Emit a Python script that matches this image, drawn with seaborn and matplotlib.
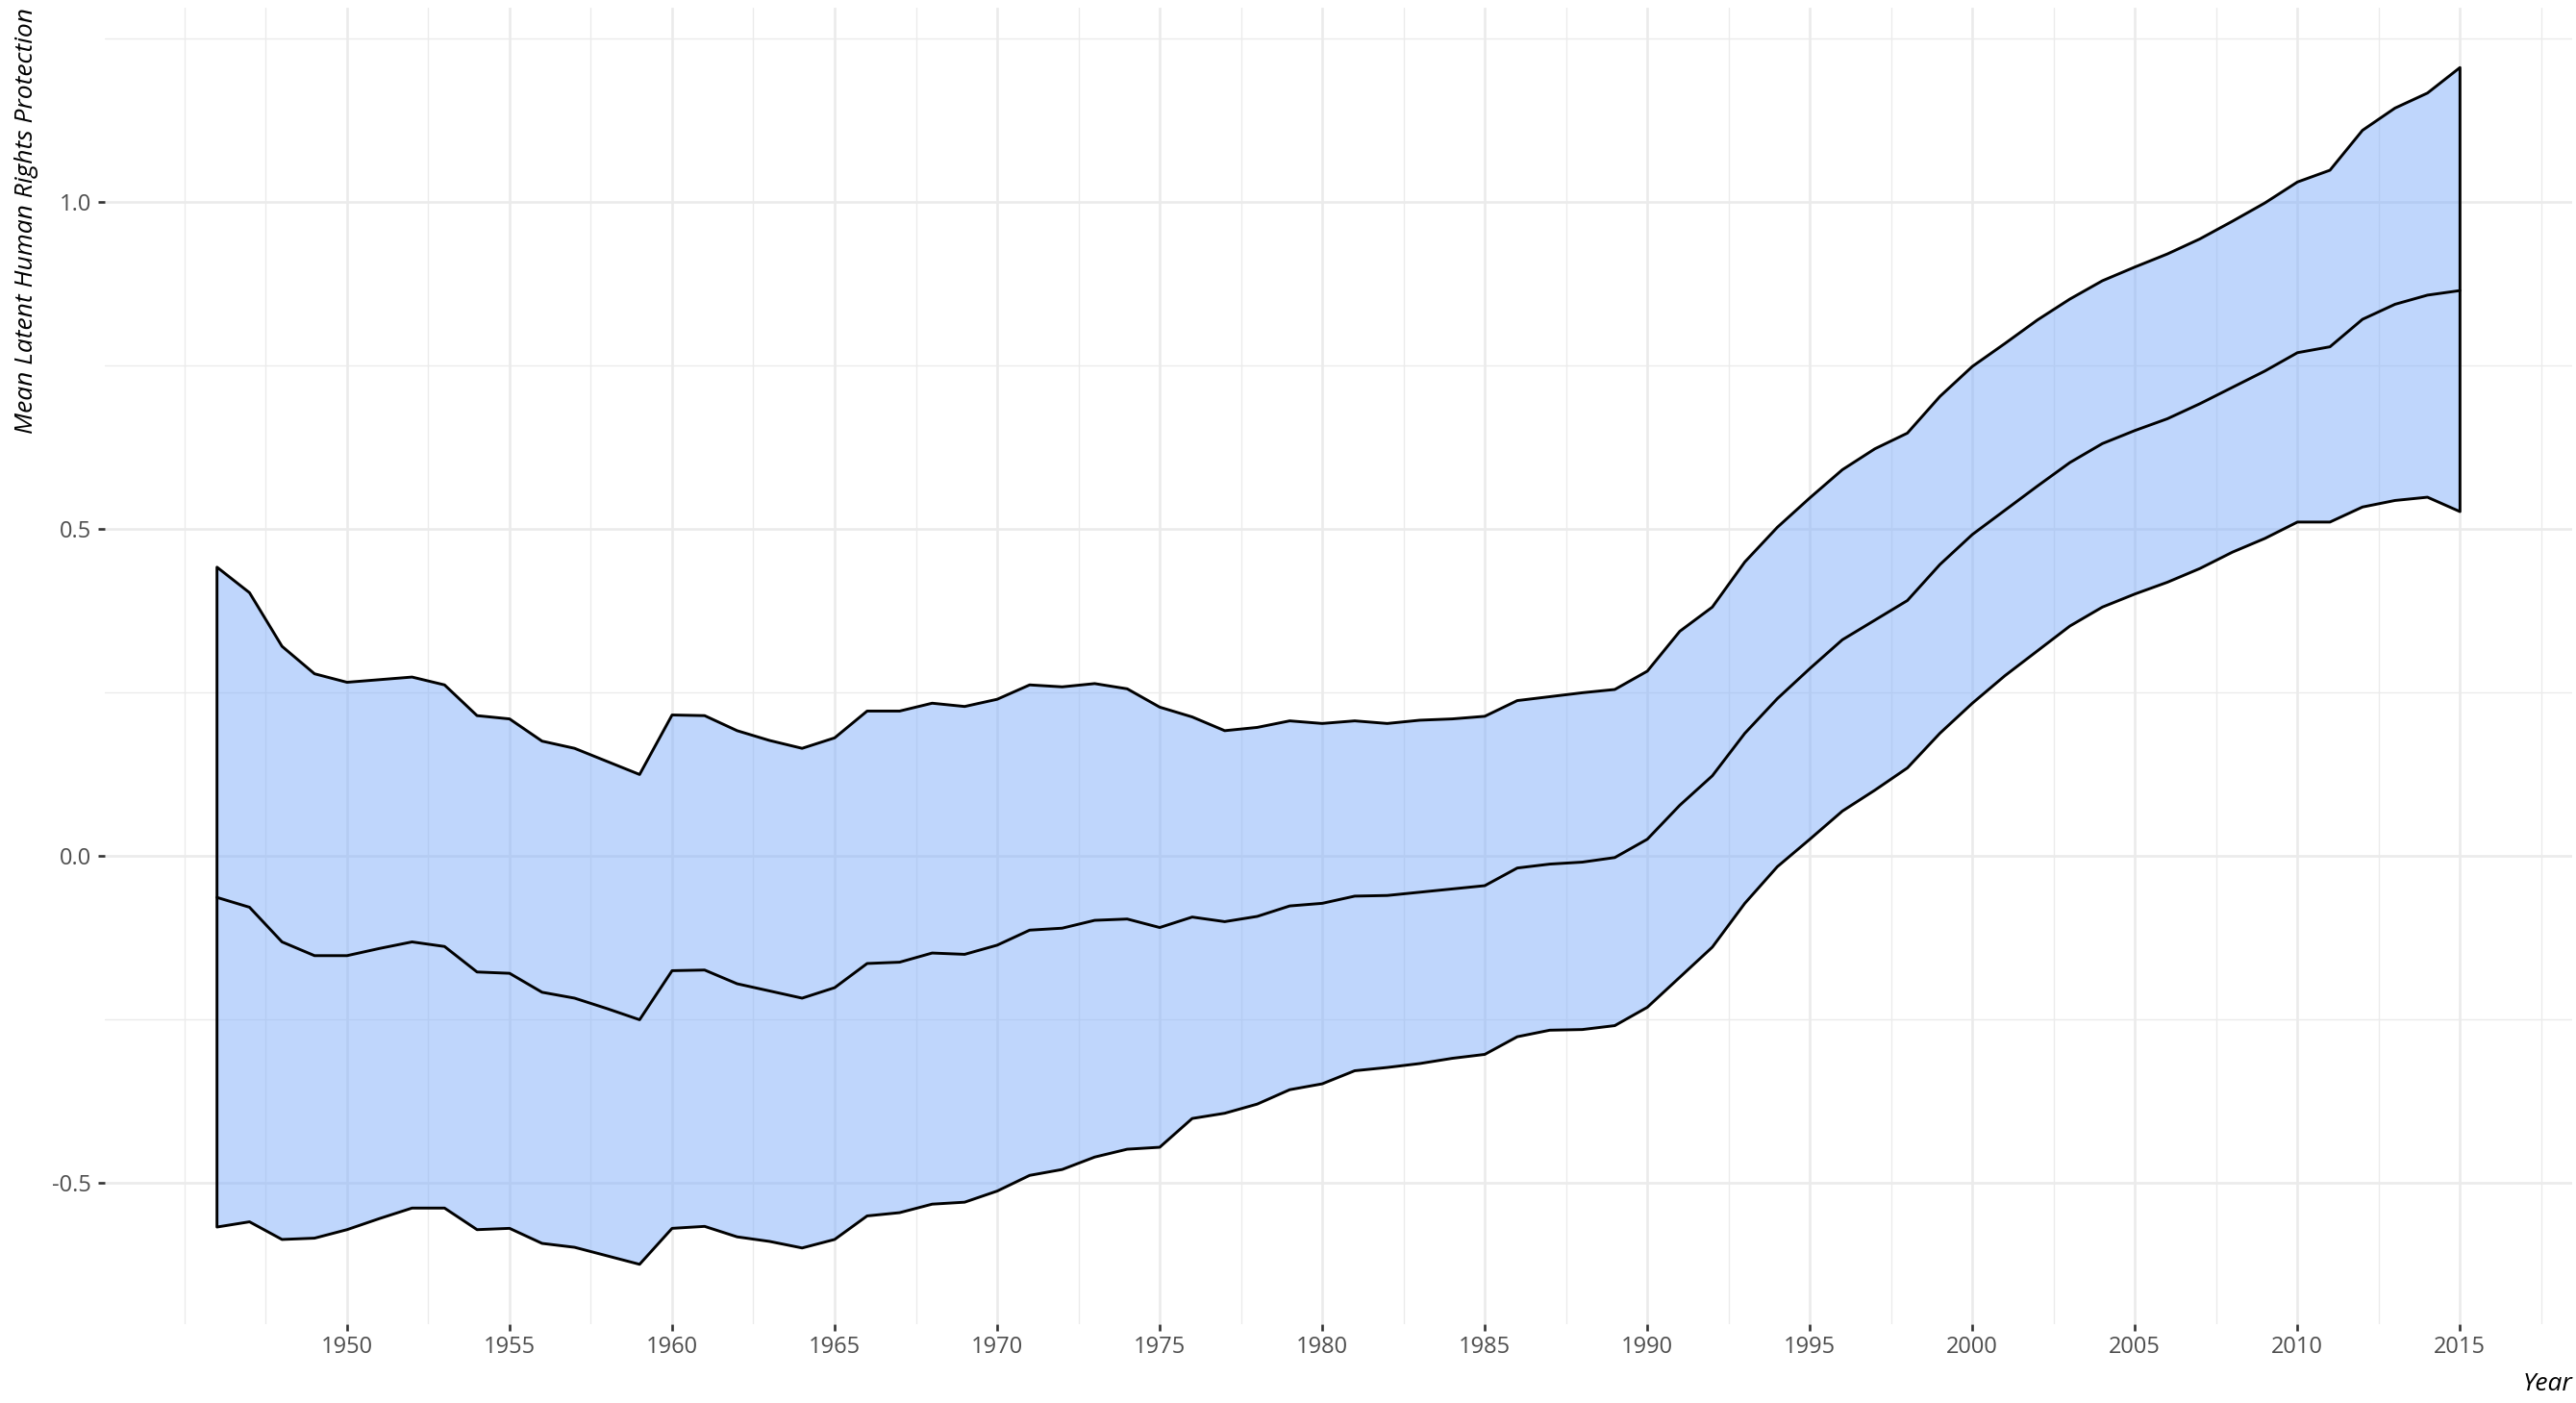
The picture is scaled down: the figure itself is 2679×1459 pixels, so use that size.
# Mean latent human rights protection, 1946-2015 (ribbon + mean line)
import numpy as np
import pandas as pd
import matplotlib
matplotlib.use("Agg")
import matplotlib.pyplot as plt
from matplotlib.ticker import FixedLocator, MultipleLocator
import seaborn as sns


# --- data ---
years = list(range(1946, 2016))

upper = [0.441, 0.402, 0.320, 0.278, 0.265, 0.269, 0.273, 0.261, 0.214, 0.209,
         0.175, 0.164, 0.144, 0.124, 0.215, 0.214, 0.191, 0.176, 0.164, 0.180,
         0.221, 0.221, 0.233, 0.228, 0.239, 0.261, 0.258, 0.263, 0.255, 0.227,
         0.212, 0.191, 0.196, 0.206, 0.202, 0.206, 0.202, 0.207, 0.209, 0.213,
         0.237, 0.243, 0.249, 0.254, 0.282, 0.343, 0.380, 0.449, 0.502, 0.547,
         0.590, 0.622, 0.646, 0.702, 0.748, 0.783, 0.819, 0.851, 0.879, 0.900,
         0.920, 0.943, 0.970, 0.998, 1.030, 1.048, 1.109, 1.143, 1.166, 1.205]

mean = [-0.064, -0.079, -0.132, -0.153, -0.153, -0.142, -0.132, -0.139, -0.178, -0.180,
        -0.209, -0.218, -0.234, -0.251, -0.176, -0.175, -0.196, -0.207, -0.218, -0.202,
        -0.165, -0.163, -0.149, -0.151, -0.137, -0.114, -0.111, -0.099, -0.097, -0.110,
        -0.094, -0.101, -0.093, -0.077, -0.073, -0.062, -0.061, -0.056, -0.051, -0.046,
        -0.019, -0.013, -0.010, -0.003, 0.025, 0.077, 0.122, 0.187, 0.240, 0.286,
        0.330, 0.360, 0.390, 0.445, 0.491, 0.528, 0.565, 0.601, 0.630, 0.650,
        0.668, 0.691, 0.716, 0.741, 0.769, 0.778, 0.820, 0.843, 0.857, 0.864]

lower = [-0.568, -0.560, -0.587, -0.585, -0.572, -0.555, -0.539, -0.539, -0.572, -0.570,
         -0.593, -0.599, -0.612, -0.625, -0.570, -0.567, -0.583, -0.590, -0.600, -0.587,
         -0.551, -0.546, -0.533, -0.530, -0.513, -0.489, -0.480, -0.461, -0.449, -0.446,
         -0.402, -0.394, -0.380, -0.358, -0.349, -0.329, -0.324, -0.318, -0.310, -0.304,
         -0.277, -0.267, -0.266, -0.260, -0.232, -0.186, -0.140, -0.073, -0.017, 0.025,
         0.068, 0.100, 0.134, 0.187, 0.233, 0.275, 0.313, 0.351, 0.380, 0.400,
         0.418, 0.439, 0.464, 0.485, 0.510, 0.510, 0.533, 0.543, 0.548, 0.526]

x_breaks = list(range(1950, 2016, 5))
y_breaks = [-0.5, 0.0, 0.5, 1.0]
y_labels = ["-0.5", "0.0", "0.5", "1.0"]

df = pd.DataFrame({"Year": years, "upper": upper, "mean": mean, "lower": lower})


# --- style ---
sns.set_theme(style="whitegrid")
plt.rcParams["font.family"] = ["Open Sans", "DejaVu Sans"]
plt.rcParams["axes.unicode_minus"] = False

fig, ax = plt.subplots(figsize=(26.79, 14.59), dpi=100)
fig.subplots_adjust(left=0.0407, right=0.9985, bottom=0.0562, top=0.9945)

# ribbon (outline drawn in black like the original)
ax.fill_between(df["Year"], df["lower"], df["upper"],
                facecolor="#80AEFA", alpha=0.5, linewidth=0, zorder=2)
ax.fill_between(df["Year"], df["lower"], df["upper"],
                facecolor="none", edgecolor="black", linewidth=2.1, zorder=3)

# mean line
sns.lineplot(data=df, x="Year", y="mean", color="black", linewidth=2.1,
             ax=ax, zorder=4)

ax.margins(x=0.05, y=0.05)

# axes / grid
ax.xaxis.set_major_locator(FixedLocator(x_breaks))
ax.xaxis.set_minor_locator(MultipleLocator(2.5))
ax.set_yticks(y_breaks)
ax.set_yticklabels(y_labels)
ax.yaxis.set_minor_locator(MultipleLocator(0.25))

ax.set_axisbelow(True)
ax.grid(which="major", color="#EBEBEB", linewidth=1.9)
ax.grid(which="minor", color="#EBEBEB", linewidth=1.0)
for s in ax.spines.values():
    s.set_visible(False)

ax.tick_params(axis="both", which="major", length=5, width=1.9, color="#333333",
               labelsize=17, labelcolor="#4D4D4D")
ax.tick_params(axis="x", which="major", pad=3.5, bottom=True)
ax.tick_params(axis="y", which="major", pad=5, left=True)
ax.tick_params(which="minor", length=0)

ax.set_xlabel("Year", fontsize=19, style="italic", color="black",
              loc="right", labelpad=10)
ax.set_ylabel("Mean Latent Human Rights Protection", fontsize=19,
              style="italic", color="black", loc="top", labelpad=10)

fig.savefig("out.png", dpi=100)
